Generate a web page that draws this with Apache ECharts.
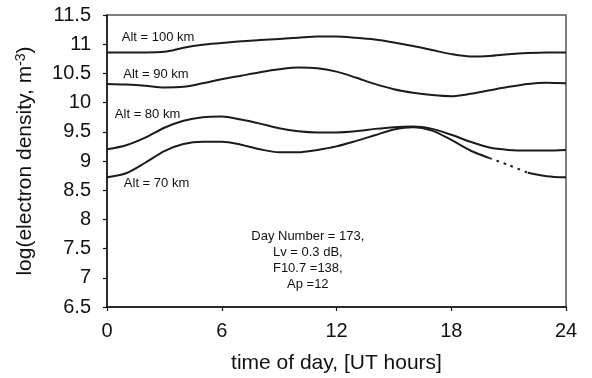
<!DOCTYPE html>
<html>
<head>
<meta charset="utf-8">
<script src="https://cdn.jsdelivr.net/npm/echarts@6/dist/echarts.min.js"></script>
<style>
  html, body { margin: 0; padding: 0; background: #fff; }
  #chart { width: 592px; height: 378px; }
</style>
</head>
<body>
<div id="chart"></div>
<script>
// Hour of day (UT)
const hours = [0,1,2,3,4,5,6,7,8,9,10,11,12,13,14,15,16,17,18,19,20,21,22,23,24];

// log10 electron density (m^-3) at each altitude
const alt100 = [10.86,10.86,10.86,10.87,10.94,10.99,11.02,11.05,11.07,11.09,11.11,11.13,11.13,11.11,11.08,11.03,10.97,10.90,10.83,10.79,10.80,10.83,10.85,10.86,10.86];
const alt90  = [10.32,10.31,10.29,10.26,10.27,10.33,10.40,10.46,10.52,10.57,10.60,10.59,10.53,10.43,10.32,10.23,10.17,10.13,10.11,10.15,10.21,10.27,10.32,10.34,10.33];
const alt80  = [9.20,9.27,9.40,9.57,9.69,9.75,9.76,9.71,9.64,9.56,9.51,9.49,9.49,9.51,9.55,9.58,9.59,9.55,9.45,9.33,9.23,9.19,9.18,9.18,9.19];
const alt70  = [8.72,8.79,8.97,9.17,9.29,9.33,9.33,9.28,9.20,9.15,9.15,9.19,9.25,9.34,9.44,9.54,9.58,9.52,9.36,9.18,9.05,8.93,8.80,8.74,8.72];

// Hours of the 70 km curve drawn as a dotted (uncertain) stretch
const dottedFrom = 20, dottedTo = 22;

// Curve labels: [text, hour, log density]
const curveLabels = [
  ['Alt = 100 km', 2.67, 11.12],
  ['Alt = 90 km', 2.56, 10.49],
  ['Alt = 80 km', 2.12, 9.79],
  ['Alt = 70 km', 2.59, 8.61]
];

// Model inputs shown inside the plot
const noteLines = ['Day Number = 173,', 'Lv = 0.3 dB,', 'F10.7 =138,', 'Ap =12'];
const notePos = [10.5, 7.29];

const xTicks = { min: 0, max: 24, interval: 6 };
const yTicks = { min: 6.5, max: 11.5, interval: 0.5 };

const pairs = arr => hours.map((h, i) => [h, arr[i]]);
const between = (arr, a, b) => pairs(arr).filter(p => p[0] >= a && p[0] <= b);

const lineColor = '#1b1b1b';
const font = 'Arial, "Liberation Sans", sans-serif';

function curve(data, dash) {
  return {
    type: 'line',
    data: data,
    smooth: 0.3,
    showSymbol: false,
    silent: true,
    lineStyle: { color: lineColor, width: 2, type: dash || 'solid' },
    z: 3
  };
}

const series = [
  curve(pairs(alt100)),
  curve(pairs(alt90)),
  curve(pairs(alt80)),
  curve(between(alt70, 0, dottedFrom)),
  curve(between(alt70, dottedFrom, dottedTo), [2.5, 5]),
  curve(between(alt70, dottedTo, 24)),
  {
    type: 'scatter',
    data: [],
    silent: true,
    markPoint: {
      symbol: 'circle',
      symbolSize: 0,
      silent: true,
      label: {
        show: true,
        position: 'inside',
        color: '#111',
        fontFamily: font,
        fontSize: 13,
        lineHeight: 16,
        align: 'center',
        formatter: p => p.name
      },
      data: curveLabels.map(l => ({ name: l[0], coord: [l[1], l[2]] }))
        .concat([{ name: noteLines.join('\n'), coord: notePos }])
    }
  }
];

const chart = echarts.init(document.getElementById('chart'), null, { renderer: 'canvas' });
chart.setOption({
  animation: false,
  backgroundColor: '#fff',
  grid: {
    left: 107, right: 26, top: 15, bottom: 71,
    outerBoundsMode: 'none',
    containLabel: false,
    show: true, borderColor: '#555', borderWidth: 1.5, backgroundColor: 'transparent'
  },
  xAxis: {
    type: 'value',
    min: xTicks.min, max: xTicks.max, interval: xTicks.interval,
    name: 'time of day, [UT hours]',
    nameLocation: 'middle',
    nameGap: 46,
    nameTextStyle: { fontFamily: font, fontSize: 21, color: '#111' },
    axisLine: { show: true, onZero: false, lineStyle: { color: '#111', width: 1.5 } },
    axisTick: { show: true, inside: false, length: 4, lineStyle: { color: '#111', width: 1.2 } },
    axisLabel: { fontFamily: font, fontSize: 20, color: '#111', margin: 14 },
    splitLine: { show: false }
  },
  yAxis: {
    type: 'value',
    min: yTicks.min, max: yTicks.max, interval: yTicks.interval,
    name: 'log(electron density, m{sup|-3})',
    nameLocation: 'middle',
    nameGap: 70,
    nameRotate: 90,
    nameTextStyle: {
      fontFamily: font, fontSize: 21, color: '#111',
      rich: { sup: { fontFamily: font, fontSize: 14, color: '#111', verticalAlign: 'top', padding: [0, 0, 9, 0] } }
    },
    axisLine: { show: true, onZero: false, lineStyle: { color: '#111', width: 1.5 } },
    axisTick: { show: true, inside: false, length: 4, lineStyle: { color: '#111', width: 1.2 } },
    axisLabel: { fontFamily: font, fontSize: 20, color: '#111', margin: 16 },
    splitLine: { show: false }
  },
  series: series
});
</script>
</body>
</html>
